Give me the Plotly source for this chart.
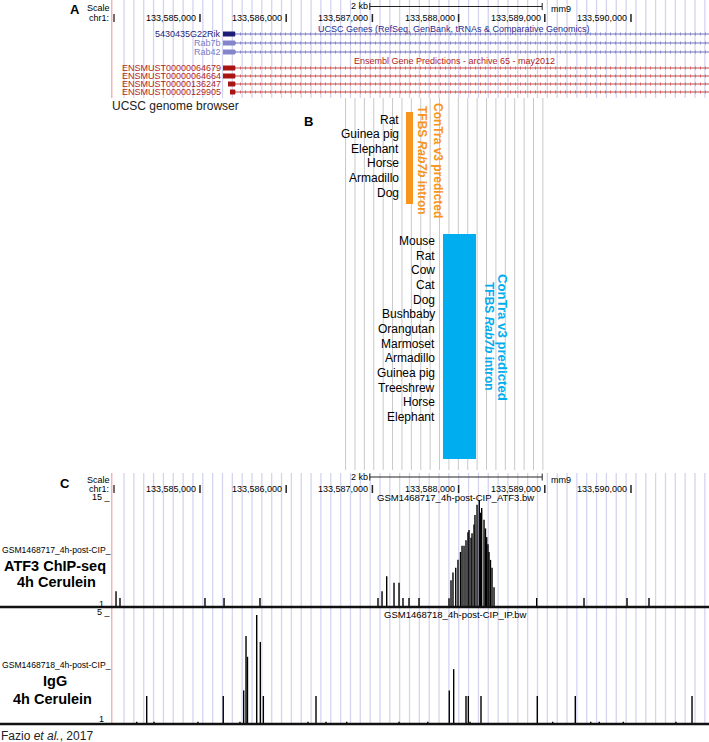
import numpy as np
import plotly.graph_objects as go

W, H = 709, 742
FONT = "Liberation Sans, Arial, Helvetica, sans-serif"

# ---------------- data ----------------
VIEW = [133582680, 133590905]                      # mm9 chr1 window shown
TICKS = [133585000, 133586000, 133587000, 133588000, 133589000, 133590000, 133591000]
TICK_LABELS = ["133,585,000", "133,586,000", "133,587,000", "133,588,000",
               "133,589,000", "133,590,000", "133,591,000"]
SCALEBAR = [133586970, 133588970]                   # 2 kb
WINDOW_START = 133583976

ucsc_genes = ["5430435G22Rik", "Rab7b", "Rab42"]
ucsc_box_start = [133585267, 133585267, 133585267]
ucsc_box_end = [133585406, 133585406, 133585406]
ens_tx = ["ENSMUST00000064679", "ENSMUST00000064664", "ENSMUST00000136247", "ENSMUST00000129905"]
ens_box_start = [133585267, 133585267, 133585325, 133585348]
ens_box_end = [133585406, 133585406, 133585406, 133585406]
GENE_END = 133592000

orange_species = ["Rat", "Guinea pig", "Elephant", "Horse", "Armadillo", "Dog"]
orange_tfbs = [133587390, 133587471]
blue_species = ["Mouse", "Rat", "Cow", "Cat", "Dog", "Bushbaby", "Orangutan", "Marmoset",
                "Armadillo", "Guinea pig", "Treeshrew", "Horse", "Elephant"]
blue_tfbs = [133587819, 133588202]

atf3_pos = [133584026, 133584072, 133585058, 133585279, 133585696, 133587065, 133587112,
            133587166, 133587251, 133587309, 133587355, 133587425, 133587541,
            133587889, 133587912, 133587935, 133587967, 133587993, 133588022, 133588040,
            133588063, 133588086, 133588109, 133588121, 133588144, 133588156, 133588179,
            133588190, 133588214, 133588240, 133588254, 133588268, 133588295, 133588312,
            133588326, 133588341, 133588353, 133588370, 133588388, 133588411,
            133588906, 133589455, 133589954, 133590209]
atf3_val = [3.0, 2.15, 2.15, 2.15, 2.15, 2.15, 3.0,
            4.9, 4.1, 4.1, 2.15, 2.15, 2.15,
            2.1, 4.4, 5.4, 6.0, 7.0, 8.0, 8.8,
            8.8, 9.5, 10.5, 10.8, 9.8, 10.4, 11.5,
            12.7, 14.0, 14.6, 13.0, 13.6, 12.1, 11.0,
            9.9, 9.0, 8.0, 7.0, 6.0, 3.5,
            2.15, 2.15, 2.15, 2.15]

igg_pos = [133584266, 133584382, 133584467, 133584977, 133585270, 133585464, 133585507,
           133585534, 133585551, 133585658, 133585700, 133585735, 133586253, 133586346,
           133586462, 133586702, 133587309, 133587642, 133587892, 133587943, 133588086,
           133588113, 133588133, 133588260, 133588913, 133589092, 133589354, 133589533,
           133589632, 133589911, 133590522, 133590708]
igg_val = [1.08, 2.0, 1.08, 1.08, 2.0, 1.08, 2.2,
           4.14, 3.4, 4.89, 3.93, 2.0, 1.08, 2.0,
           1.08, 1.08, 1.08, 1.08, 2.2, 2.96, 2.0,
           2.0, 1.08, 2.0, 2.0, 1.08, 2.0, 1.08,
           1.08, 1.08, 1.08, 2.0]

# ---------------- helpers ----------------
def P(px):
    return 1 - px / H

def X(px):
    return px / W

shapes = []
ann = []

def line(x0, x1, y0, y1, color, width=1, xref="x", dash=None, layer="below"):
    d = dict(type="line", x0=x0, x1=x1, y0=P(y0), y1=P(y1), xref=xref, yref="paper",
             line=dict(color=color, width=width), layer=layer)
    if dash:
        d["line"]["dash"] = dash
    shapes.append(d)

def rect(x0, x1, y0, y1, color, xref="x", layer="above"):
    shapes.append(dict(type="rect", x0=x0, x1=x1, y0=P(y1), y1=P(y0), xref=xref, yref="paper",
                       fillcolor=color, line=dict(width=0), layer=layer))

def txt(text, x, y, size, color="#000000", xanchor="center", xref="paper", angle=0, xshift=0):
    ann.append(dict(text=text, x=(x / W if xref == "paper" else x), y=P(y), xref=xref,
                    yref="paper", showarrow=False, xanchor=xanchor, yanchor="middle",
                    textangle=angle, xshift=xshift, borderpad=0,
                    font=dict(family=FONT, size=size, color=color)))

# ---------------- guidelines ----------------
GUIDE = "#d4d4f0"
guides = np.arange(133584119, VIEW[1], 114.2)
for g in guides:
    line(g, g, 0, 98, GUIDE, 1.3)
    line(g, g, 473, 724, GUIDE, 1.3)
line(WINDOW_START, WINDOW_START, 0, 98, "#f4b4b4", 1.5)
line(WINDOW_START, WINDOW_START, 473, 724, "#f4b4b4", 1.5)

for g in np.arange(133586689, 133588980, 109.0):
    line(g, g, 98, 470, "#c9c9c9", 1)

# ---------------- ruler (A and C) ----------------
def ruler(y_scale, y_chr, y_bar, y_mm9):
    txt("Scale", 111, y_scale, 9, xanchor="right")
    txt("chr1:", 110, y_chr, 9, xanchor="right")
    line(X(114), X(114), y_chr - 4, y_chr + 4, "#222222", 1.3, xref="paper", layer="above")
    for t, lab in zip(TICKS, TICK_LABELS):
        txt(lab, t, y_chr, 9, xanchor="right", xref="x", xshift=-3)
        line(t, t, y_chr - 4, y_chr + 4, "#222222", 1.5, layer="above")
    line(SCALEBAR[0], SCALEBAR[1], y_bar, y_bar, "#222222", 1, layer="above")
    line(SCALEBAR[0], SCALEBAR[0], y_bar - 3.5, y_bar + 3.5, "#222222", 1, layer="above")
    line(SCALEBAR[1], SCALEBAR[1], y_bar - 3.5, y_bar + 3.5, "#222222", 1, layer="above")
    txt("2 kb", SCALEBAR[0], y_bar, 9, xanchor="right", xref="x", xshift=-1)
    txt("mm9", SCALEBAR[1], y_mm9, 9, xanchor="left", xref="x", xshift=8)

ruler(8, 18, 6.5, 8.5)
ruler(480, 489, 477, 480)

# ---------------- panel A ----------------
txt("<b>A</b>", 75, 9, 13)
txt("UCSC Genes (RefSeq, GenBank, tRNAs &amp; Comparative Genomics)", 454, 29, 9, color="#2a2a8e")
txt("Ensembl Gene Predictions - archive 65 - may2012", 454, 61, 9, color="#b22222")

ucsc_y = [34, 43, 52]
ucsc_lab = ["#1e1e78", "#7c7cc4", "#7c7cc4"]
ucsc_box = ["#1e1e78", "#8484cc", "#8484cc"]
for name, bs, be, y, lc, bc in zip(ucsc_genes, ucsc_box_start, ucsc_box_end, ucsc_y, ucsc_lab, ucsc_box):
    txt(name, bs, y, 9, color=lc, xanchor="right", xref="x", xshift=-1)
    line(be, GENE_END, y, y, "#7070bc", 1)
    line(be, GENE_END, y, y, "#8888cc", 3, dash="1px,4px")
    rect(bs, be, y - 2.5, y + 2.5, bc)

ens_y = [68, 76, 84, 92]
for name, bs, be, y in zip(ens_tx, ens_box_start, ens_box_end, ens_y):
    txt(name, ucsc_box_start[0], y, 9, color="#b01e1e", xanchor="right", xref="x", xshift=-1)
    line(be, GENE_END, y, y, "#c24848", 1)
    line(be, GENE_END, y, y, "#d06868", 3, dash="1px,4px")
    rect(bs, be, y - 2.5, y + 2.5, "#a81414")

txt("UCSC genome browser", 111, 106, 12, color="#222222", xanchor="left")

# ---------------- panel B ----------------
txt("<b>B</b>", 308, 121, 13)
for i, s in enumerate(orange_species):
    txt(s, 400, 119.5 + 14.6 * i, 12, xanchor="right")
rect(orange_tfbs[0], orange_tfbs[1], 112, 204, "#f7941d")
txt("<b>ConTra v3 predicted</b>", 438, 160, 12, color="#f7941d", angle=90)
txt("<b>TFBS <i>Rab7b</i> intron</b>", 422, 160, 12, color="#f7941d", angle=90)

for i, s in enumerate(blue_species):
    txt(s, 436, 241 + 14.68 * i, 12, xanchor="right")
rect(blue_tfbs[0], blue_tfbs[1], 234, 459, "#00aeef")
txt("<b>ConTra v3 predicted</b>", 503, 337, 13.2, color="#00aeef", angle=90)
txt("<b>TFBS <i>Rab7b</i> intron</b>", 489, 336, 12, color="#00aeef", angle=90)

# ---------------- panel C ----------------
txt("<b>C</b>", 65, 483, 13)
txt("15 _", 112, 497, 9, xanchor="right")
txt("GSM1468717_4h-post-CIP_ATF3.bw", 455, 497, 9.5)
txt("GSM1468717_4h-post-CIP_", 112, 550, 8.6, xanchor="right")
txt("<b>ATF3 ChIP-seq</b>", 55, 566, 14.5)
txt("<b>4h Cerulein</b>", 56, 582, 14.5)
txt("1", 105, 604, 9, xanchor="right")

txt("5 _", 112, 612, 9, xanchor="right")
txt("GSM1468718_4h-post-CIP_IP.bw", 455, 614, 9.5)
txt("GSM1468718_4h-post-CIP_", 112, 665, 8.6, xanchor="right")
txt("<b>IgG</b>", 55, 681, 14.5)
txt("<b>4h Cerulein</b>", 53, 699, 14.5)
txt("1", 105, 719, 9, xanchor="right")

txt("Fazio <i>et al.</i>, 2017", 0, 736, 12, color="#222222", xanchor="left")

line(0, 1, 607, 607, "#111111", 2.4, xref="paper", layer="above")
line(0, 1, 724, 724, "#111111", 2.4, xref="paper", layer="above")

def stems(pos, val, base):
    xs, ys = [], []
    for p, v in zip(pos, val):
        xs += [p, p, None]
        ys += [base, v, None]
    return xs, ys

fig = go.Figure()
ax, ay = stems(atf3_pos, atf3_val, 1)
fig.add_trace(go.Scatter(x=ax, y=ay, mode="lines", line=dict(color="#000000", width=1.4),
                         hoverinfo="skip", showlegend=False, xaxis="x", yaxis="y"))
ix, iy = stems(igg_pos, igg_val, 1)
fig.add_trace(go.Scatter(x=ix, y=iy, mode="lines", line=dict(color="#000000", width=1.4),
                         hoverinfo="skip", showlegend=False, xaxis="x", yaxis="y2"))

fig.update_layout(
    width=W, height=H, autosize=False,
    margin=dict(l=0, r=0, t=0, b=0),
    paper_bgcolor="white", plot_bgcolor="rgba(0,0,0,0)",
    xaxis=dict(range=VIEW, domain=[0, 1], visible=False, fixedrange=True),
    yaxis=dict(range=[1, 15], domain=[P(607), P(497)], visible=False, anchor="x", fixedrange=True),
    yaxis2=dict(range=[1, 5], domain=[P(724), P(612)], visible=False, anchor="x", fixedrange=True),
    shapes=shapes, annotations=ann, showlegend=False,
)
fig.write_html("out.html", config={"displayModeBar": False, "staticPlot": True},
               post_script="document.body.style.margin='0';document.body.style.overflow='hidden';")
